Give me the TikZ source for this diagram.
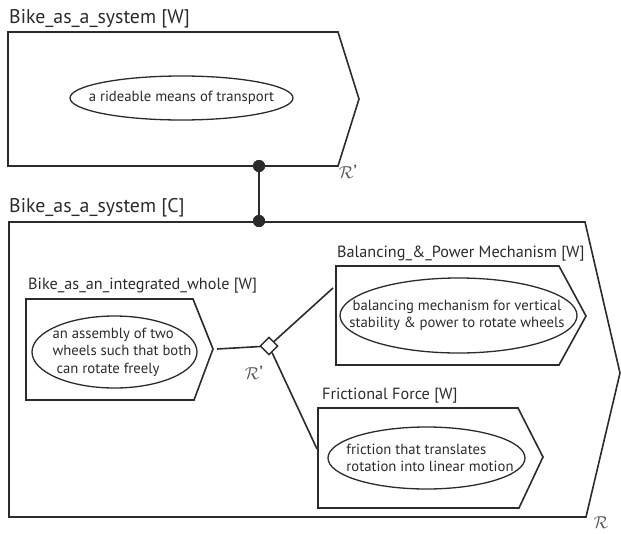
\documentclass[tikz,border=0pt]{standalone}
\usepackage{fontspec}
\setmainfont{PT Sans}
\usetikzlibrary{shapes.geometric}
\definecolor{ink}{HTML}{2B2B2B}
\definecolor{relink}{HTML}{555555}
\begin{document}
\begin{tikzpicture}[x=1pt,y=-1pt, line join=miter,
  frame/.style={draw=ink, line width=1.6pt},
  oval/.style={ellipse, draw=ink, line width=1.3pt, inner sep=0pt},
  otext/.style={inner sep=0pt, text=ink, font=\fontsize{14.7}{17.5}\selectfont},
  bigttl/.style={anchor=base west, inner sep=0pt, text=ink, font=\fontsize{19.8}{22}\selectfont},
  ttl/.style={anchor=base west, inner sep=0pt, text=ink, font=\fontsize{16.2}{19}\selectfont},
  rel/.style={inner sep=0pt, text=relink, font=\fontsize{19}{22}\selectfont},
  conn/.style={draw=ink, line width=1.6pt},
  dot/.style={circle, fill=ink, minimum size=12pt, inner sep=0pt},
  diam/.style={diamond, draw=ink, fill=white, line width=1.4pt, minimum size=18pt, inner sep=0pt}]
\useasboundingbox (0,0) rectangle (621,533);

% ---- top whole box
\node[bigttl] (t1) at (9,23) {Bike\_as\_a\_system [W]};
\draw[frame] (8,32) -- (338,32) -- (359,99) -- (338,166) -- (8,166) -- cycle;
\node[oval, minimum width=223pt, minimum height=44pt] (e1) at (181.5,98) {};
\node[otext] (e1t) at (e1.center) {a rideable means of transport};
\node[rel] (r1) at (348,172) {$\mathcal{R}$’};

% ---- big context box
\node[bigttl] (t2) at (9,212) {Bike\_as\_a\_system [C]};
\draw[frame] (9,222) -- (585,222) -- (620,373) -- (586,517) -- (9,517) -- cycle;
\node[rel] (r2) at (601,523) {$\mathcal{R}$};

% ---- link top -> big
\node[dot] (d1) at (259,166) {};
\node[dot] (d2) at (259,221) {};
\draw[conn] (d1.center) -- (d2.center);
\node[dot] at (259,166) {};
\node[dot] at (259,221) {};

% ---- inner box 1
\node[ttl] (t3) at (28,289) {Bike\_as\_an\_integrated\_whole [W]};
\draw[frame] (26,299) -- (193,299) -- (213,349) -- (194,400) -- (26,400) -- cycle;
\coordinate (b1tip) at (217,349);
\node[oval, minimum width=165pt, minimum height=72pt] (e2) at (114.5,352) {};
\node[otext, align=left] (e2t) at (122,352) {an assembly of two\\wheels such that both\\\ can rotate freely};

% ---- inner box 2
\node[ttl] (t4) at (337,257) {Balancing\_\&\_Power Mechanism [W]};
\draw[frame] (336,266) -- (559,266) -- (586,316) -- (559,365) -- (336,365) -- cycle;
\coordinate (b2w) at (333,288);
\node[oval, minimum width=237pt, minimum height=75pt] (e3) at (458.5,315.5) {};
\node[otext, align=center] (e3t) at (457,315.5) {balancing mechanism for vertical\\stability \& power to rotate wheels};

% ---- inner box 3
\node[ttl] (t5) at (322,399) {Frictional Force [W]};
\draw[frame] (318,408) -- (518,408) -- (543,457) -- (519,508) -- (318,508) -- cycle;
\coordinate (b3w) at (317,449);
\node[oval, minimum width=197pt, minimum height=62pt] (e4) at (426.5,458) {};
\node[otext, align=left] (e4t) at (430,458) {friction that translates\\rotation into linear motion};

% ---- diamond relation
\node[diam] (dia) at (269,346) {};
\node[rel] (r3) at (254,373) {$\mathcal{R}$’};
\draw[conn] (b1tip) -- (dia);
\draw[conn] (dia) -- (b2w);
\draw[conn] (dia) -- (b3w);
\end{tikzpicture}
\end{document}
